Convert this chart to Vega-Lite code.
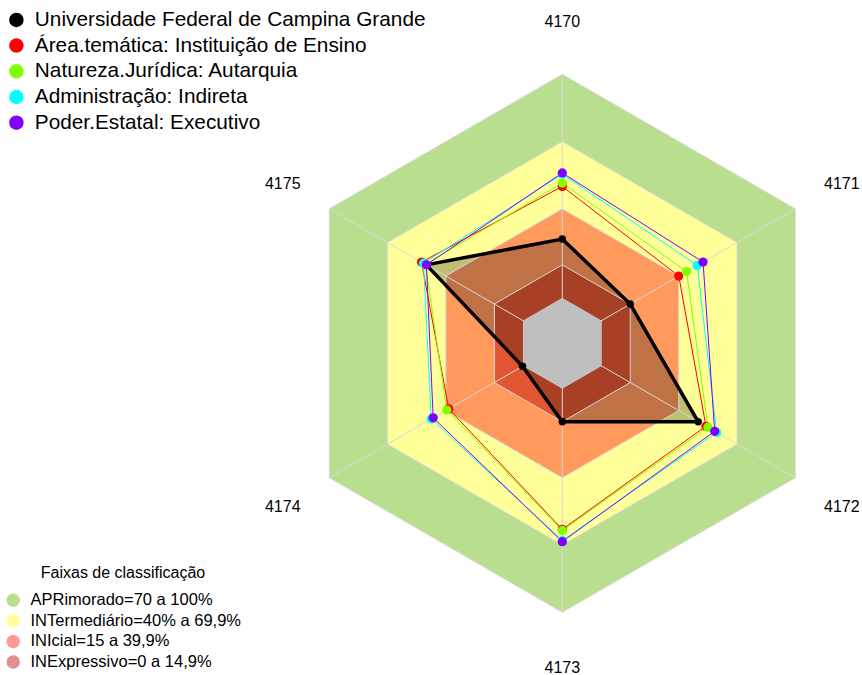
{
  "$schema": "https://vega.github.io/schema/vega-lite/v6.json",
  "width": 862,
  "height": 675,
  "autosize": {"type": "none"},
  "padding": 0,
  "background": "white",
  "config": {"view": {"stroke": null}, "font": "Liberation Sans"},
  "datasets": {
    "niveis": [
      {"faixa": "APRimorado=70 a 100%", "eixo": "4170", "valor": 100},
      {"faixa": "APRimorado=70 a 100%", "eixo": "4171", "valor": 100},
      {"faixa": "APRimorado=70 a 100%", "eixo": "4172", "valor": 100},
      {"faixa": "APRimorado=70 a 100%", "eixo": "4173", "valor": 100},
      {"faixa": "APRimorado=70 a 100%", "eixo": "4174", "valor": 100},
      {"faixa": "APRimorado=70 a 100%", "eixo": "4175", "valor": 100},
      {"faixa": "INTermediário=40% a 69,9%", "eixo": "4170", "valor": 70},
      {"faixa": "INTermediário=40% a 69,9%", "eixo": "4171", "valor": 70},
      {"faixa": "INTermediário=40% a 69,9%", "eixo": "4172", "valor": 70},
      {"faixa": "INTermediário=40% a 69,9%", "eixo": "4173", "valor": 70},
      {"faixa": "INTermediário=40% a 69,9%", "eixo": "4174", "valor": 70},
      {"faixa": "INTermediário=40% a 69,9%", "eixo": "4175", "valor": 70},
      {"faixa": "INIcial=15 a 39,9%", "eixo": "4170", "valor": 40},
      {"faixa": "INIcial=15 a 39,9%", "eixo": "4171", "valor": 40},
      {"faixa": "INIcial=15 a 39,9%", "eixo": "4172", "valor": 40},
      {"faixa": "INIcial=15 a 39,9%", "eixo": "4173", "valor": 40},
      {"faixa": "INIcial=15 a 39,9%", "eixo": "4174", "valor": 40},
      {"faixa": "INIcial=15 a 39,9%", "eixo": "4175", "valor": 40},
      {"faixa": "INExpressivo=0 a 14,9%", "eixo": "4170", "valor": 15},
      {"faixa": "INExpressivo=0 a 14,9%", "eixo": "4171", "valor": 15},
      {"faixa": "INExpressivo=0 a 14,9%", "eixo": "4172", "valor": 15},
      {"faixa": "INExpressivo=0 a 14,9%", "eixo": "4173", "valor": 15},
      {"faixa": "INExpressivo=0 a 14,9%", "eixo": "4174", "valor": 15},
      {"faixa": "INExpressivo=0 a 14,9%", "eixo": "4175", "valor": 15},
      {"faixa": "Centro", "eixo": "4170", "valor": 0},
      {"faixa": "Centro", "eixo": "4171", "valor": 0},
      {"faixa": "Centro", "eixo": "4172", "valor": 0},
      {"faixa": "Centro", "eixo": "4173", "valor": 0},
      {"faixa": "Centro", "eixo": "4174", "valor": 0},
      {"faixa": "Centro", "eixo": "4175", "valor": 0}
    ],
    "series": [
      {"serie": "Universidade Federal de Campina Grande", "eixo": "4170", "valor": 26.5},
      {"serie": "Universidade Federal de Campina Grande", "eixo": "4171", "valor": 15},
      {"serie": "Universidade Federal de Campina Grande", "eixo": "4172", "valor": 50},
      {"serie": "Universidade Federal de Campina Grande", "eixo": "4173", "valor": 15},
      {"serie": "Universidade Federal de Campina Grande", "eixo": "4174", "valor": 0.5},
      {"serie": "Universidade Federal de Campina Grande", "eixo": "4175", "valor": 50},
      {"serie": "Área.temática: Instituição de Ensino", "eixo": "4170", "valor": 50},
      {"serie": "Área.temática: Instituição de Ensino", "eixo": "4171", "valor": 40},
      {"serie": "Área.temática: Instituição de Ensino", "eixo": "4172", "valor": 54},
      {"serie": "Área.temática: Instituição de Ensino", "eixo": "4173", "valor": 63},
      {"serie": "Área.temática: Instituição de Ensino", "eixo": "4174", "valor": 38.5},
      {"serie": "Área.temática: Instituição de Ensino", "eixo": "4175", "valor": 52.5},
      {"serie": "Natureza.Jurídica: Autarquia", "eixo": "4170", "valor": 51.5},
      {"serie": "Natureza.Jurídica: Autarquia", "eixo": "4171", "valor": 44},
      {"serie": "Natureza.Jurídica: Autarquia", "eixo": "4172", "valor": 55},
      {"serie": "Natureza.Jurídica: Autarquia", "eixo": "4173", "valor": 63.5},
      {"serie": "Natureza.Jurídica: Autarquia", "eixo": "4174", "valor": 39.5},
      {"serie": "Natureza.Jurídica: Autarquia", "eixo": "4175", "valor": 50.5},
      {"serie": "Administração: Indireta", "eixo": "4170", "valor": 55.5},
      {"serie": "Administração: Indireta", "eixo": "4171", "valor": 49.5},
      {"serie": "Administração: Indireta", "eixo": "4172", "valor": 59.5},
      {"serie": "Administração: Indireta", "eixo": "4173", "valor": 68},
      {"serie": "Administração: Indireta", "eixo": "4174", "valor": 47.5},
      {"serie": "Administração: Indireta", "eixo": "4175", "valor": 51.5},
      {"serie": "Poder.Estatal: Executivo", "eixo": "4170", "valor": 56},
      {"serie": "Poder.Estatal: Executivo", "eixo": "4171", "valor": 52.5},
      {"serie": "Poder.Estatal: Executivo", "eixo": "4172", "valor": 58.5},
      {"serie": "Poder.Estatal: Executivo", "eixo": "4173", "valor": 68.5},
      {"serie": "Poder.Estatal: Executivo", "eixo": "4174", "valor": 46.5},
      {"serie": "Poder.Estatal: Executivo", "eixo": "4175", "valor": 50}
    ],
    "eixos": [
      {"eixo": "4170"}, {"eixo": "4171"}, {"eixo": "4172"},
      {"eixo": "4173"}, {"eixo": "4174"}, {"eixo": "4175"}
    ]
  },
  "encoding": {
    "x": {"field": "px", "type": "quantitative", "scale": {"domain": [-2.0903, 1.1141], "nice": false, "zero": false}, "axis": null},
    "y": {"field": "py", "type": "quantitative", "scale": {"domain": [-1.2331, 1.2762], "nice": false, "zero": false}, "axis": null}
  },
  "layer": [
    {
      "data": {"name": "niveis"},
      "transform": [
        {"filter": "datum.faixa !== 'Centro'"},
        {"calculate": "indexof(['4170','4171','4172','4173','4174','4175'], datum.eixo)", "as": "idx"},
        {"calculate": "(datum.valor + 20) / 120", "as": "r"},
        {"calculate": "datum.r * sin(datum.idx * PI / 3)", "as": "px"},
        {"calculate": "datum.r * cos(datum.idx * PI / 3)", "as": "py"}
      ],
      "mark": {"type": "line", "interpolate": "linear-closed", "strokeOpacity": 0, "strokeWidth": 0},
      "encoding": {
        "fill": {
          "field": "faixa", "type": "nominal",
          "scale": {
            "domain": ["APRimorado=70 a 100%", "INTermediário=40% a 69,9%", "INIcial=15 a 39,9%", "INExpressivo=0 a 14,9%"],
            "range": ["rgba(115,192,30,0.5)", "#ffff99", "rgba(255,0,0,0.4)", "rgba(185,0,0,0.44)"]
          },
          "legend": {
            "orient": "none", "legendX": 5, "legendY": 565, "padding": 0,
            "title": "Faixas de classificação", "titleFontSize": 16, "titleFontWeight": "normal",
            "titleFont": "Liberation Sans", "titleColor": "black", "titleAnchor": "middle", "titlePadding": 11,
            "symbolType": "circle", "symbolSize": 180, "symbolStrokeWidth": 0,
            "labelFontSize": 16.5, "labelFont": "Liberation Sans", "labelColor": "black",
            "rowPadding": 3.6, "labelOffset": 9, "labelLimit": 400
          }
        },
        "order": {"field": "idx", "type": "quantitative"}
      }
    },
    {
      "data": {"name": "series"},
      "transform": [
        {"filter": "datum.serie === 'Universidade Federal de Campina Grande'"},
        {"calculate": "indexof(['4170','4171','4172','4173','4174','4175'], datum.eixo)", "as": "idx"},
        {"calculate": "(datum.valor + 20) / 120", "as": "r"},
        {"calculate": "datum.r * sin(datum.idx * PI / 3)", "as": "px"},
        {"calculate": "datum.r * cos(datum.idx * PI / 3)", "as": "py"}
      ],
      "mark": {"type": "line", "interpolate": "linear-closed", "fill": "black", "fillOpacity": 0.25, "strokeOpacity": 0, "strokeWidth": 0},
      "encoding": {"order": {"field": "idx", "type": "quantitative"}}
    },
    {
      "data": {"name": "niveis"},
      "transform": [
        {"calculate": "indexof(['4170','4171','4172','4173','4174','4175'], datum.eixo)", "as": "idx"},
        {"calculate": "(datum.valor + 20) / 120", "as": "r"},
        {"calculate": "datum.r * sin(datum.idx * PI / 3)", "as": "px"},
        {"calculate": "datum.r * cos(datum.idx * PI / 3)", "as": "py"}
      ],
      "mark": {"type": "line", "interpolate": "linear-closed", "stroke": "#d8d8d8", "strokeWidth": 1},
      "encoding": {"detail": {"field": "faixa"}, "order": {"field": "idx", "type": "quantitative"}}
    },
    {
      "data": {"name": "niveis"},
      "transform": [
        {"filter": "datum.valor === 100"},
        {"calculate": "indexof(['4170','4171','4172','4173','4174','4175'], datum.eixo)", "as": "idx"},
        {"calculate": "(datum.valor + 20) / 120", "as": "r"},
        {"calculate": "datum.r * sin(datum.idx * PI / 3)", "as": "px"},
        {"calculate": "datum.r * cos(datum.idx * PI / 3)", "as": "py"}
      ],
      "mark": {"type": "rule", "stroke": "#d8d8d8", "strokeWidth": 1},
      "encoding": {"x2": {"datum": 0}, "y2": {"datum": 0}}
    },
    {
      "data": {"name": "niveis"},
      "transform": [
        {"filter": "datum.faixa === 'Centro'"},
        {"calculate": "indexof(['4170','4171','4172','4173','4174','4175'], datum.eixo)", "as": "idx"},
        {"calculate": "(datum.valor + 20) / 120", "as": "r"},
        {"calculate": "datum.r * sin(datum.idx * PI / 3)", "as": "px"},
        {"calculate": "datum.r * cos(datum.idx * PI / 3)", "as": "py"}
      ],
      "mark": {"type": "line", "interpolate": "linear-closed", "fill": "#bfbfbf", "strokeOpacity": 0, "strokeWidth": 0},
      "encoding": {"order": {"field": "idx", "type": "quantitative"}}
    },
    {
      "data": {"name": "series"},
      "transform": [
        {"filter": "datum.serie === 'Universidade Federal de Campina Grande'"},
        {"calculate": "indexof(['4170','4171','4172','4173','4174','4175'], datum.eixo)", "as": "idx"},
        {"calculate": "(datum.valor + 20) / 120", "as": "r"},
        {"calculate": "datum.r * sin(datum.idx * PI / 3)", "as": "px"},
        {"calculate": "datum.r * cos(datum.idx * PI / 3)", "as": "py"}
      ],
      "mark": {"type": "line", "interpolate": "linear-closed", "stroke": "black", "strokeWidth": 3.5},
      "encoding": {"order": {"field": "idx", "type": "quantitative"}}
    },
    {
      "data": {"name": "series"},
      "transform": [
        {"filter": "datum.serie !== 'Universidade Federal de Campina Grande'"},
        {"calculate": "indexof(['4170','4171','4172','4173','4174','4175'], datum.eixo)", "as": "idx"},
        {"calculate": "(datum.valor + 20) / 120", "as": "r"},
        {"calculate": "datum.r * sin(datum.idx * PI / 3)", "as": "px"},
        {"calculate": "datum.r * cos(datum.idx * PI / 3)", "as": "py"}
      ],
      "mark": {"type": "line", "interpolate": "linear-closed", "strokeWidth": 1},
      "encoding": {
        "stroke": {
          "field": "serie", "type": "nominal",
          "scale": {
            "domain": ["Poder.Estatal: Executivo", "Administração: Indireta", "Natureza.Jurídica: Autarquia", "Área.temática: Instituição de Ensino"],
            "range": ["#8000ff", "#00ffff", "#80ff00", "#ff0000"]
          },
          "legend": null
        },
        "order": {"field": "idx", "type": "quantitative"}
      }
    },
    {
      "data": {"name": "series"},
      "transform": [
        {"calculate": "indexof(['4170','4171','4172','4173','4174','4175'], datum.eixo)", "as": "idx"},
        {"calculate": "(datum.valor + 20) / 120", "as": "r"},
        {"calculate": "datum.r * sin(datum.idx * PI / 3)", "as": "px"},
        {"calculate": "datum.r * cos(datum.idx * PI / 3)", "as": "py"}
      ],
      "mark": {"type": "point", "filled": true, "opacity": 1, "shape": "circle"},
      "encoding": {
        "color": {
          "field": "serie", "type": "nominal",
          "scale": {
            "domain": ["Universidade Federal de Campina Grande", "Área.temática: Instituição de Ensino", "Natureza.Jurídica: Autarquia", "Administração: Indireta", "Poder.Estatal: Executivo"],
            "range": ["#000000", "#ff0000", "#80ff00", "#00ffff", "#8000ff"]
          },
          "legend": {
            "orient": "none", "legendX": 6, "legendY": 9.5, "padding": 0, "title": null,
            "symbolType": "circle", "symbolSize": 210, "symbolStrokeWidth": 0, "symbolOpacity": 1,
            "labelFontSize": 20.8, "labelFont": "Liberation Sans", "labelColor": "black",
            "rowPadding": 3.7, "labelOffset": 8, "labelLimit": 600
          }
        },
        "size": {"condition": {"test": "datum.serie === 'Universidade Federal de Campina Grande'", "value": 55}, "value": 85}
      }
    },
    {
      "data": {"name": "eixos"},
      "transform": [
        {"calculate": "indexof(['4170','4171','4172','4173','4174','4175'], datum.eixo)", "as": "idx"},
        {"calculate": "1.2 * sin(datum.idx * PI / 3)", "as": "px"},
        {"calculate": "1.2 * cos(datum.idx * PI / 3)", "as": "py"}
      ],
      "mark": {"type": "text", "fontSize": 16, "font": "Liberation Sans", "color": "black", "align": "center", "baseline": "middle", "dy": 2},
      "encoding": {"text": {"field": "eixo"}}
    }
  ]
}
